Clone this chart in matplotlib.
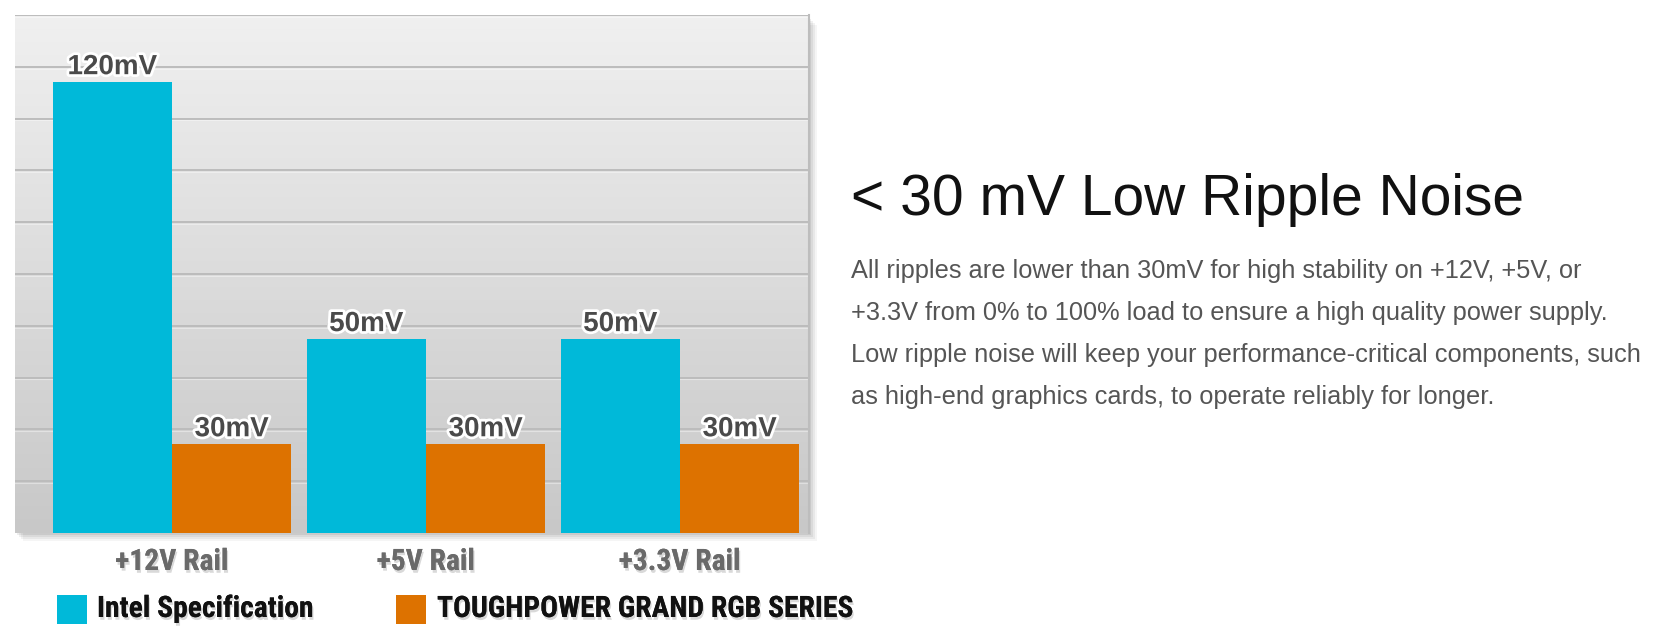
import matplotlib
matplotlib.use('Agg')
import matplotlib.pyplot as plt
import matplotlib.patheffects as pe
import numpy as np
from matplotlib import font_manager
from matplotlib.colors import LinearSegmentedColormap
from matplotlib.patches import Rectangle

rails = ['+12V Rail', '+5V Rail', '+3.3V Rail']
series = ['Intel Specification', 'TOUGHPOWER GRAND RGB SERIES']
intel_mv = [120, 50, 50]
toughpower_mv = [30, 30, 30]
# bar heights as read off the chart's ten grid steps (the chart is not to scale)
intel_height = [8.71, 3.75, 3.75]
toughpower_height = [1.72, 1.72, 1.72]

title = '< 30 mV Low Ripple Noise'
body = [
    'All ripples are lower than 30mV for high stability on +12V, +5V, or',
    '+3.3V from 0% to 100% load to ensure a high quality power supply.',
    'Low ripple noise will keep your performance-critical components, such',
    'as high-end graphics cards, to operate reliably for longer.',
]

CYAN = '#00b9d9'
ORANGE = '#dd7200'
W, H = 1664, 642


def fx(px):
    return px / W


def fy(py):
    return 1 - py / H


def main():
    names = {f.name for f in font_manager.fontManager.ttflist}
    if 'Roboto Condensed' in names:
        narrow, narrow_size = ['Roboto Condensed', 'DejaVu Sans'], 21.3
    else:
        narrow, narrow_size = ['Liberation Sans', 'DejaVu Sans'], 17.5
    sans = ['Liberation Sans', 'DejaVu Sans']

    fig = plt.figure(figsize=(W / 100, H / 100), dpi=100)

    # soft drop shadow behind the panel
    for off, a in [(2, 0.07), (4, 0.06), (6, 0.05), (8, 0.04)]:
        fig.add_artist(Rectangle((fx(15 + off), fy(533 + off)), fx(794), (518 - 2) / H,
                                 transform=fig.transFigure, color='black', alpha=a,
                                 lw=0, zorder=-1))

    ax = fig.add_axes([fx(15), fy(533), fx(794), 518 / H])
    ax.set_zorder(1)

    x = np.arange(len(rails))
    w = 0.47
    xlim = (-0.618, 2.508)

    cmap = LinearSegmentedColormap.from_list('bg', ['#c8c8c8', '#f0f0f0'])
    grad = np.linspace(0, 1, 256).reshape(-1, 1)
    ax.imshow(grad, extent=[xlim[0], xlim[1], 0, 10], origin='lower', cmap=cmap,
              aspect='auto', zorder=0)
    for y in range(1, 11):
        ax.axhline(y, color='#bcbcbc', lw=1.4, zorder=1)
        ax.axhline(y - 0.035, color='white', lw=0.8, alpha=0.4, zorder=1)

    ax.bar(x - w / 2, intel_height, w, color=CYAN, zorder=3)
    ax.bar(x + w / 2, toughpower_height, w, color=ORANGE, zorder=3)

    label_fx = [pe.withSimplePatchShadow(offset=(1, -1.5), shadow_rgbFace='black', alpha=0.15),
                pe.Stroke(linewidth=4, foreground='white'), pe.Normal()]
    for i in range(len(rails)):
        for xpos, h, mv in [(x[i] - w / 2, intel_height[i], intel_mv[i]),
                            (x[i] + w / 2, toughpower_height[i], toughpower_mv[i])]:
            ax.annotate(f'{mv}mV', (xpos, h), xytext=(0, 5.5), textcoords='offset points',
                        ha='center', va='baseline', fontsize=20, fontweight='bold',
                        color='#4a4a4a', family=sans, path_effects=label_fx, zorder=5)

    shadow_fx = [pe.withSimplePatchShadow(offset=(1, -2), shadow_rgbFace='black', alpha=0.15),
                 pe.Normal()]
    for i, rail in enumerate(rails):
        ax.text(x[i], -37 / 518, rail, transform=ax.get_xaxis_transform(), ha='center',
                va='baseline', fontsize=narrow_size, fontweight='bold', color='#6a6a6a',
                family=narrow, path_effects=shadow_fx, clip_on=False)

    ax.set_xlim(*xlim)
    ax.set_ylim(0, 10)
    ax.set_xticks([])
    ax.set_yticks([])
    for side in ['left', 'top', 'bottom']:
        ax.spines[side].set_visible(False)
    ax.spines['right'].set_color('#bdbdbd')
    ax.spines['right'].set_linewidth(1.5)

    # legend
    for (sx, tx), name, color in zip([(57, 97), (396, 437)], series, [CYAN, ORANGE]):
        fig.add_artist(Rectangle((fx(sx), fy(624)), fx(30), 29 / H,
                                 transform=fig.transFigure, color=color, lw=0))
        fig.text(fx(tx), fy(617), name, ha='left', va='baseline', fontsize=narrow_size,
                 fontweight='bold', color='#111111', family=narrow, path_effects=shadow_fx)

    fig.text(fx(851), fy(215), title, ha='left', va='baseline', fontsize=41,
             color='#111111', family=sans)
    for k, line in enumerate(body):
        fig.text(fx(851), fy(278 + 42 * k), line, ha='left', va='baseline', fontsize=18.3,
                 color='#555555', family=sans)

    fig.savefig('out.png', dpi=100, facecolor='white')


if __name__ == "__main__":
    main()
